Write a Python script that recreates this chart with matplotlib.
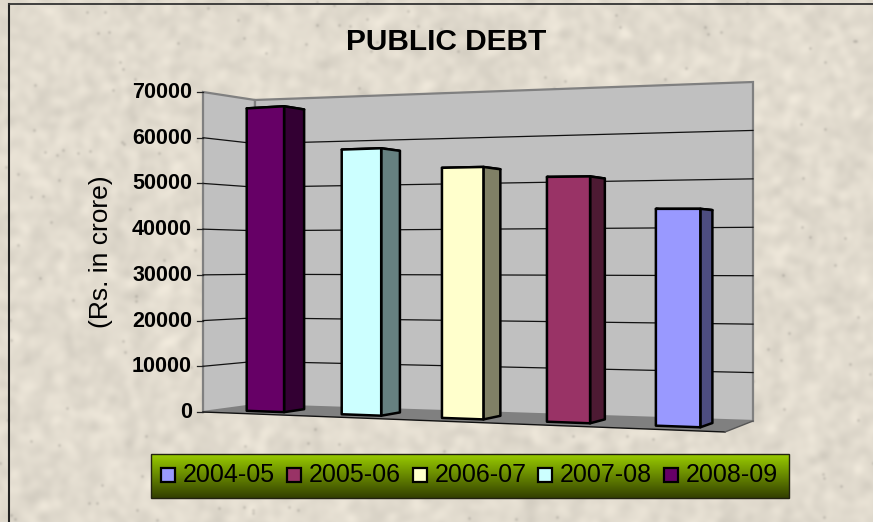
"""Public debt 3D-look column chart, drawn with a small perspective projection."""

import matplotlib

matplotlib.use("Agg")
import matplotlib.pyplot as plt
import numpy as np
from matplotlib.patches import Polygon, Rectangle

plt.rcParams["font.family"] = ["Liberation Sans", "DejaVu Sans"]

TITLE = "PUBLIC DEBT"
Y_LABEL = "(Rs. in crore)"
YEARS = ["2008-09", "2007-08", "2006-07", "2005-06", "2004-05"]
DEBT = [66500, 56600, 52150, 49900, 43300]
FRONT_COLOURS = ["#660066", "#CCFFFF", "#FFFFCC", "#993366", "#9999FF"]
SIDE_COLOURS = ["#330033", "#668080", "#808066", "#4D1A33", "#4D4D80"]
Y_TICKS = [0, 10000, 20000, 30000, 40000, 50000, 60000, 70000]

W, H = 873, 522
Y_MAX = 70000
BAR_WIDTH = 0.08
DEPTH_FRONT, DEPTH_BACK = 0.30, 0.70
U_WARP = 0.2

# floor corners in pixels and wall height at each of them
FLOOR_SRC = [(0, 0), (1, 0), (1, 1), (0, 1)]
FLOOR_DST = [(203, 412), (725, 432), (753, 421), (255, 405)]
HEIGHTS = [320, 362, 339, 305]


def floor_homography():
    rows, rhs = [], []
    for (u, d), (x, y) in zip(FLOOR_SRC, FLOOR_DST):
        rows.append([u, d, 1, 0, 0, 0, -u * x, -d * x])
        rows.append([0, 0, 0, u, d, 1, -u * y, -d * y])
        rhs += [x, y]
    return np.append(np.linalg.solve(np.array(rows, float), np.array(rhs, float)), 1).reshape(3, 3)


HOMOGRAPHY = floor_homography()


def project(u, d, value=0.0):
    u = u + U_WARP * u * (1 - u)
    px, py, pw = HOMOGRAPHY @ np.array([u, d, 1.0])
    h = (HEIGHTS[0] * (1 - u) * (1 - d) + HEIGHTS[1] * u * (1 - d)
         + HEIGHTS[2] * u * d + HEIGHTS[3] * (1 - u) * d)
    return px / pw, py / pw - value / Y_MAX * h


def paper_texture():
    rng = np.random.default_rng(7)
    noise = rng.normal(size=(H, W))
    fy = np.fft.fftfreq(H)[:, None]
    fx = np.fft.fftfreq(W)[None, :]
    soft = np.fft.ifft2(np.fft.fft2(noise) * np.exp(-(fx**2 + fy**2) * 300)).real
    soft /= soft.std()
    specks = np.fft.ifft2(np.fft.fft2((rng.random((H, W)) > 0.9995) * 1.0)
                          * np.exp(-(fx**2 + fy**2) * 33)).real
    shade = 1 + 0.018 * soft - 1.0 * specks
    base = np.array([0.885, 0.86, 0.81])
    return np.clip(shade[..., None] * base, 0, 1)


def main():
    fig = plt.figure(figsize=(W / 100, H / 100), dpi=100)
    ax = fig.add_axes([0, 0, 1, 1])
    ax.set_xlim(0, W)
    ax.set_ylim(H, 0)
    ax.axis("off")
    ax.imshow(paper_texture(), extent=(0, W, H, 0), aspect="auto", zorder=0)

    # chart border
    ax.plot([9, 9], [H, 4], color="#222222", lw=1.5, zorder=1)
    ax.plot([9, W], [4, 4], color="#333333", lw=1.3, zorder=1)

    # walls and floor
    ax.add_patch(Polygon([project(0, 0), project(0, 0, Y_MAX), project(0, 1, Y_MAX), project(0, 1)],
                         fc="#C0C0C0", ec="#808080", lw=1.6, zorder=2))
    ax.add_patch(Polygon([project(0, 1), project(0, 1, Y_MAX), project(1, 1, Y_MAX), project(1, 1)],
                         fc="#C0C0C0", ec="#808080", lw=1.6, zorder=2))
    ax.add_patch(Polygon([project(0, 0), project(1, 0), project(1, 1), project(0, 1)],
                         fc="#808080", ec="none", zorder=3))
    ax.plot(*zip(project(0, 0), project(1, 0)), color="#111111", lw=1.0, zorder=3)
    ax.plot(*zip(project(1, 0), project(1, 1)), color="#555555", lw=1.0, zorder=3)

    # gridlines, ticks and tick labels
    for tick in Y_TICKS:
        if tick not in (0, Y_MAX):
            ax.plot(*zip(project(0, 0, tick), project(0, 1, tick), project(1, 1, tick)),
                    color="#111111", lw=0.9, zorder=3)
        x0, y0 = project(0, 0, tick)
        ax.plot([x0 - 6, x0], [y0, y0], color="#222222", lw=0.9, zorder=3)
        ax.text(x0 - 11, y0 + 0.5, str(tick), ha="right", va="center", fontsize=15.5,
                fontweight="bold", color="black", zorder=5)

    # bars, left to right
    for i, value in enumerate(DEBT):
        centre = (i + 0.5) / len(DEBT)
        u0, u1 = centre - BAR_WIDTH / 2, centre + BAR_WIDTH / 2
        kw = dict(ec="black", lw=1.8, joinstyle="round", zorder=4)
        ax.add_patch(Polygon([project(u0, DEPTH_FRONT, value), project(u1, DEPTH_FRONT, value),
                              project(u1, DEPTH_BACK, value), project(u0, DEPTH_BACK, value)],
                             fc=SIDE_COLOURS[i], **kw))
        ax.add_patch(Polygon([project(u1, DEPTH_FRONT), project(u1, DEPTH_FRONT, value),
                              project(u1, DEPTH_BACK, value), project(u1, DEPTH_BACK)],
                             fc=SIDE_COLOURS[i], **kw))
        ax.add_patch(Polygon([project(u0, DEPTH_FRONT), project(u0, DEPTH_FRONT, value),
                              project(u1, DEPTH_FRONT, value), project(u1, DEPTH_FRONT)],
                             fc=FRONT_COLOURS[i], **kw))

    ax.text(446, 42, TITLE, ha="center", va="center", fontsize=21.5, fontweight="bold", zorder=5)
    ax.text(101, 252, Y_LABEL, ha="center", va="center", rotation=90, fontsize=19, zorder=5)

    # legend with green gradient
    box = (151, 454, 789, 498)
    top, bottom = np.array([0.6, 0.8, 0.0]), np.array([0.2, 0.25, 0.0])
    ramp = np.linspace(0, 1, 64)[:, None, None]
    gradient = top * (1 - ramp) + bottom * ramp
    ax.imshow(gradient, extent=(box[0], box[2], box[3], box[1]), aspect="auto", zorder=5)
    ax.add_patch(Rectangle((box[0], box[1]), box[2] - box[0], box[3] - box[1], fc="none",
                           ec="#222211", lw=1.0, zorder=6))
    ax.set_xlim(0, W)
    ax.set_ylim(H, 0)
    entry_x = [161, 287, 413, 538, 664]
    for x, year, colour in zip(entry_x, YEARS[::-1], FRONT_COLOURS[::-1]):
        ax.add_patch(Rectangle((x, 468), 14, 14, fc=colour, ec="black", lw=1.6, zorder=6))
        ax.text(x + 22, 475, year, ha="left", va="center", fontsize=18, color="black", zorder=6)

    fig.savefig("out.png", dpi=100)
    plt.close(fig)


if __name__ == "__main__":
    main()
